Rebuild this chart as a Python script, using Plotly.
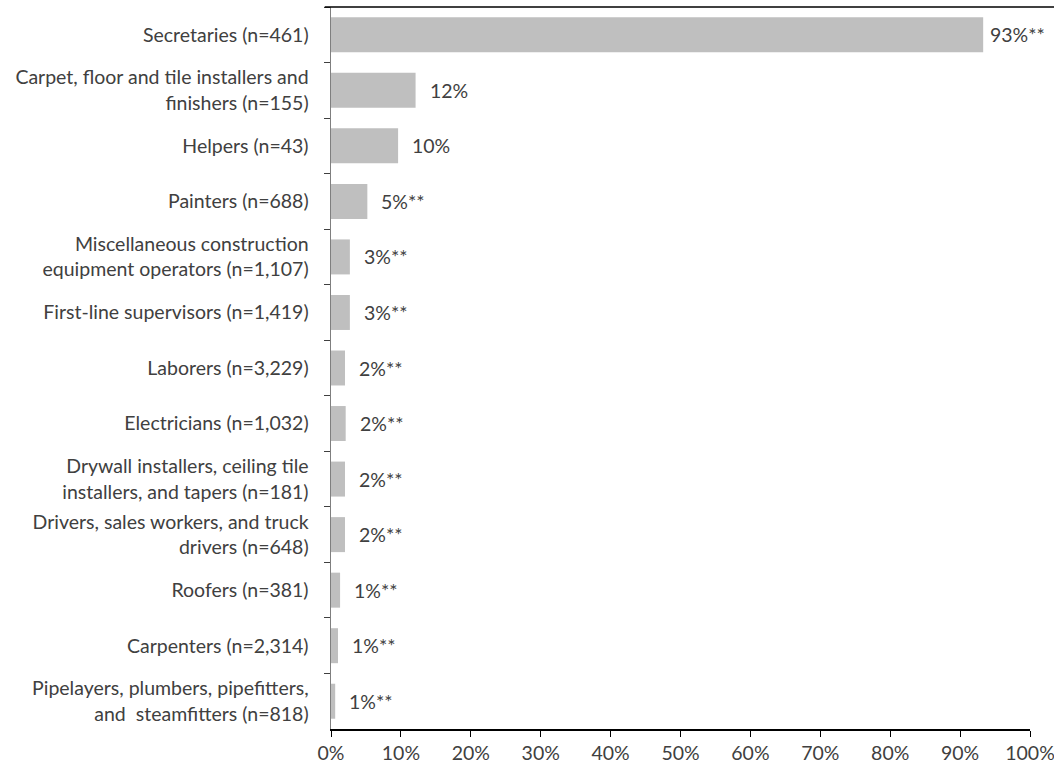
import plotly.graph_objects as go

categories = [
    "Secretaries (n=461)",
    "Carpet, floor and tile installers and<br>finishers (n=155)",
    "Helpers (n=43)",
    "Painters (n=688)",
    "Miscellaneous construction<br>equipment operators (n=1,107)",
    "First-line supervisors (n=1,419)",
    "Laborers (n=3,229)",
    "Electricians (n=1,032)",
    "Drywall installers, ceiling tile<br>installers, and tapers (n=181)",
    "Drivers, sales workers, and truck<br>drivers (n=648)",
    "Roofers (n=381)",
    "Carpenters (n=2,314)",
    "Pipelayers, plumbers, pipefitters,<br>and  steamfitters (n=818)",
]
values = [93.3, 12.1, 9.6, 5.2, 2.7, 2.7, 2.0, 2.1, 2.0, 2.0, 1.3, 1.0, 0.6]
labels = ["93%**", "12%", "10%", "5%**", "3%**", "3%**", "2%**", "2%**",
          "2%**", "2%**", "1%**", "1%**", "1%**"]
x_ticks = list(range(0, 101, 10))
x_tick_text = [f"{v}%" for v in x_ticks]

FONT = "Lato"
TXT = "#404040"
FS = 19.5

fig = go.Figure()
fig.add_trace(go.Bar(
    x=values, y=categories, orientation="h",
    marker=dict(color="#BFBFBF", line=dict(width=0)),
    width=0.63, hoverinfo="skip",
))

for c, v, t in zip(categories, values, labels):
    fig.add_annotation(
        x=v, y=c, text=t, showarrow=False, xanchor="left", yanchor="middle",
        xshift=5 if v > 90 else 12,
        font=dict(family=FONT, size=FS, color=TXT),
    )

fig.add_shape(type="line", xref="paper", yref="paper",
              x0=-0.009, x1=1.04, y0=1, y1=1,
              line=dict(color="black", width=1.5))

fig.update_layout(
    width=1054, height=767,
    margin=dict(l=331, r=24, t=7, b=38, autoexpand=False),
    paper_bgcolor="white", plot_bgcolor="white",
    showlegend=False,
    font=dict(family=FONT, size=FS, color=TXT),
    xaxis=dict(
        range=[0, 100], tickvals=x_ticks, ticktext=x_tick_text,
        showgrid=False, zeroline=False,
        showline=True, linecolor="black", linewidth=1.5,
        ticks="outside", ticklen=6, tickcolor="black", tickwidth=1,
        tickfont=dict(family=FONT, size=FS, color=TXT),
        automargin=False, ticklabeloverflow="allow",
    ),
    yaxis=dict(
        categoryorder="array", categoryarray=categories,
        autorange="reversed",
        showgrid=False, zeroline=False,
        showline=True, linecolor="#7F7F7F", linewidth=1.5,
        ticks="outside", ticklen=6, tickcolor="#404040", tickwidth=1,
        tickson="boundaries",
        ticklabelstandoff=17,
        tickfont=dict(family=FONT, size=FS, color=TXT),
        automargin=False,
    ),
)

fig.write_html(
    "out.html",
    config={"displayModeBar": False, "staticPlot": True},
    post_script="document.body.style.margin='0';document.body.style.overflow='hidden';",
)
